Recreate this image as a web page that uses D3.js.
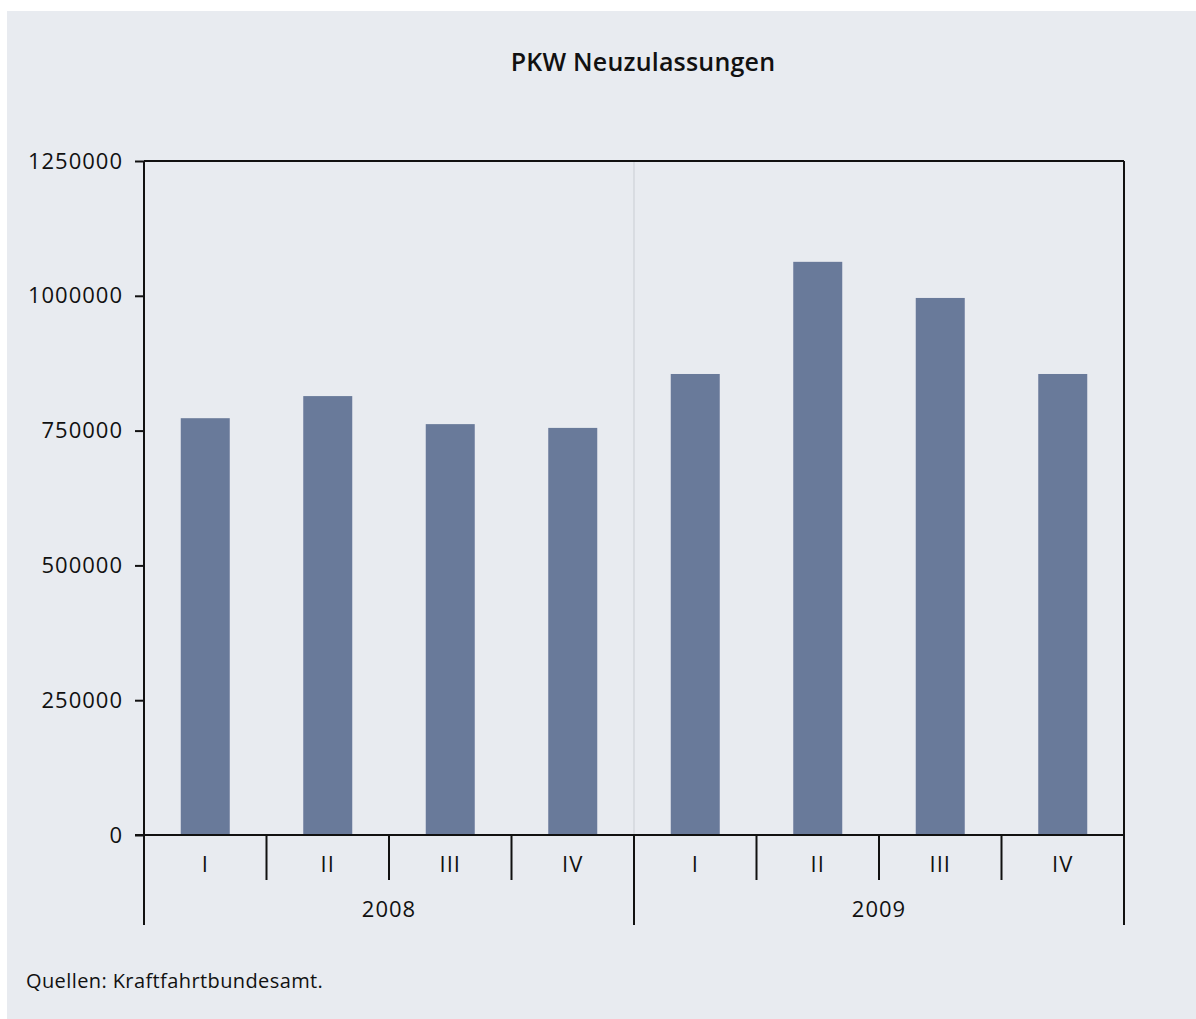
<!DOCTYPE html>
<html>
<head>
<meta charset="utf-8">
<script src="https://cdn.jsdelivr.net/npm/d3@7"></script>
<style>
  body { margin: 0; background: #fff; }
  text { font-family: "Open Sans", sans-serif; fill: #111; }
</style>
</head>
<body>
<div id="chart"></div>
<script>
// Daten: PKW Neuzulassungen je Quartal
const years = ["2008", "2009"];
const quarters = ["I", "II", "III", "IV"];
const values2008 = [773000, 814000, 762000, 755000];
const values2009 = [855000, 1063000, 996000, 855000];
const yTicks = [0, 250000, 500000, 750000, 1000000, 1250000];

const W = 1196, H = 1019;
const margin = { top: 161, right: 72, bottom: 184, left: 144 };
const width = W - margin.left - margin.right;
const height = H - margin.top - margin.bottom;

const rows = [];
years.forEach((y, yi) => {
    const vals = yi === 0 ? values2008 : values2009;
    quarters.forEach((q, qi) => rows.push({ year: y, q: q, key: y + "-" + q, value: vals[qi] }));
});

const svg = d3.select("#chart").append("svg")
    .attr("width", W)
    .attr("height", H);

// Hintergrund
svg.append("rect")
    .attr("x", 7).attr("y", 11)
    .attr("width", W - 7).attr("height", H - 11)
    .attr("fill", "#e8ebf0");

// Titel
svg.append("text")
    .attr("x", 643).attr("y", 71)
    .attr("text-anchor", "middle")
    .attr("font-size", "25px")
    .attr("font-weight", 600)
    .attr("letter-spacing", "0.2px")
    .text("PKW Neuzulassungen");

const g = svg.append("g")
    .attr("transform", `translate(${margin.left},${margin.top})`);

const x = d3.scaleBand()
    .domain(rows.map(d => d.key))
    .range([0, width])
    .paddingInner(0.6)
    .paddingOuter(0.3);

const yearScale = d3.scaleBand()
    .domain(years)
    .range([0, width]);

const y = d3.scaleLinear()
    .domain([0, 1250000])
    .range([height, 0]);

// Trennlinie zwischen Jahren
g.append("line")
    .attr("x1", yearScale("2009")).attr("x2", yearScale("2009"))
    .attr("y1", 0).attr("y2", height)
    .attr("stroke", "#c9cdd3")
    .attr("stroke-width", 1);

// Balken
g.selectAll(".bar")
    .data(rows)
    .enter()
    .append("rect")
    .attr("class", "bar")
    .attr("x", d => x(d.key))
    .attr("y", d => y(d.value))
    .attr("width", x.bandwidth())
    .attr("height", d => height - y(d.value))
    .attr("fill", "#697a9a");

// Y-Achse
const yAxis = g.append("g")
    .call(d3.axisLeft(y).tickValues(yTicks).tickFormat(d3.format("d")).tickSize(9).tickPadding(13));
yAxis.select(".domain").remove();
yAxis.selectAll(".tick line").attr("stroke", "#111").attr("stroke-width", 2);
yAxis.selectAll(".tick text")
    .attr("font-size", "22px")
    .attr("letter-spacing", "1px")
    .attr("dx", "1px")
    .attr("font-family", "Open Sans, sans-serif")
    .attr("fill", "#111");

// Rahmen
const frame = g.append("g").attr("stroke", "#111").attr("stroke-width", 2).attr("fill", "none");
frame.append("line").attr("x1", 0).attr("x2", width).attr("y1", 0).attr("y2", 0);
frame.append("line").attr("x1", width).attr("x2", width).attr("y1", 0).attr("y2", height);
frame.append("line").attr("x1", 0).attr("x2", 0).attr("y1", 0).attr("y2", height);
frame.append("line").attr("x1", -9).attr("x2", width).attr("y1", height).attr("y2", height);

// Quartals-Trennstriche
const qBounds = d3.range(0, rows.length + 1).map(i => i * (width / rows.length));
g.selectAll(".qtick")
    .data(qBounds)
    .enter()
    .append("line")
    .attr("x1", d => d).attr("x2", d => d)
    .attr("y1", height)
    .attr("y2", (d, i) => i % quarters.length === 0 ? height + 90 : height + 45)
    .attr("stroke", "#111")
    .attr("stroke-width", 2);

// Quartals-Beschriftung
g.selectAll(".qlabel")
    .data(rows)
    .enter()
    .append("text")
    .attr("x", d => x(d.key) + x.bandwidth() / 2)
    .attr("y", height + 37)
    .attr("text-anchor", "middle")
    .attr("font-size", "22px")
    .attr("letter-spacing", "1px")
    .text(d => d.q);

// Jahres-Beschriftung
g.selectAll(".ylabel")
    .data(years)
    .enter()
    .append("text")
    .attr("x", d => yearScale(d) + yearScale.bandwidth() / 2)
    .attr("y", height + 82)
    .attr("text-anchor", "middle")
    .attr("font-size", "22px")
    .attr("letter-spacing", "1px")
    .text(d => d);

// Quelle
svg.append("text")
    .attr("x", 26).attr("y", 988)
    .attr("font-size", "20px")
    .attr("letter-spacing", "0.4px")
    .text("Quellen: Kraftfahrtbundesamt.");
</script>
</body>
</html>
